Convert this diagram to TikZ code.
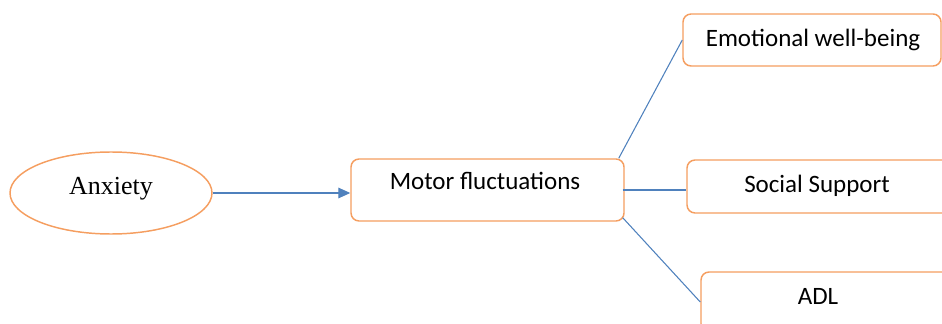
\documentclass[tikz,border=0pt]{standalone}
\usepackage{fontspec}
\setmainfont{Carlito}
\newfontfamily\timesfont{Liberation Serif}
\usetikzlibrary{arrows.meta,shapes.geometric}
\definecolor{boxorange}{RGB}{245,158,96}
\definecolor{lineblue}{RGB}{79,129,189}
\tikzset{
  rbox/.style={draw=boxorange, line width=1.1pt, rounded corners=6pt, fill=white, inner sep=0pt},
  oval/.style={ellipse, draw=boxorange, line width=1.1pt, inner sep=0pt, minimum width=151.5pt, minimum height=61.5pt},
  lbl/.style={anchor=base, inner sep=0pt, font=\fontsize{18.75pt}{22pt}\selectfont},
  conn/.style={draw=lineblue, line width=0.8pt},
}
\begin{document}
\begin{tikzpicture}[x=0.75pt,y=-0.75pt]
\useasboundingbox (0,0) rectangle (942,324);
\clip (0,0) rectangle (942,324);
% shapes
\node[oval] (anx) at (111,193) {};
\node[rbox, minimum width=204.75pt, minimum height=46.5pt] (motor) at (487.5,190) {};
\node[rbox, minimum width=193.5pt, minimum height=39pt] (emo) at (812,40) {};
\node[rbox, minimum width=212.25pt, minimum height=39.75pt] (soc) at (828.5,186.5) {};
\node[rbox, minimum width=194.25pt, minimum height=45pt] (adl) at (830.5,302) {};
% texts
\node[lbl, font=\timesfont\fontsize{19.5pt}{22pt}\selectfont] (anxt) at (111,195) {Anxiety};
\node[lbl] (motort) at (485,190) {Motor fluctuations};
\node[lbl] (emot) at (813,47) {Emotional well-being};
\node[lbl] (soct) at (817,192) {Social Support};
\node[lbl] (adlt) at (818,304) {ADL};
% connectors
\draw[conn, -{Triangle[length=9pt,width=8pt]}, draw=lineblue, fill=lineblue] (anx.east) -- (anx.east -| motor.west);
\draw[conn] ([xshift=-4.5pt]motor.north east) -- (emo.west);
\draw[conn] ([xshift=-1.5pt]motor.east) -- (motor.east -| soc.west);
\draw[conn] ([xshift=-1.5pt,yshift=3pt]motor.south east) -- (adl.west);
\end{tikzpicture}
\end{document}
